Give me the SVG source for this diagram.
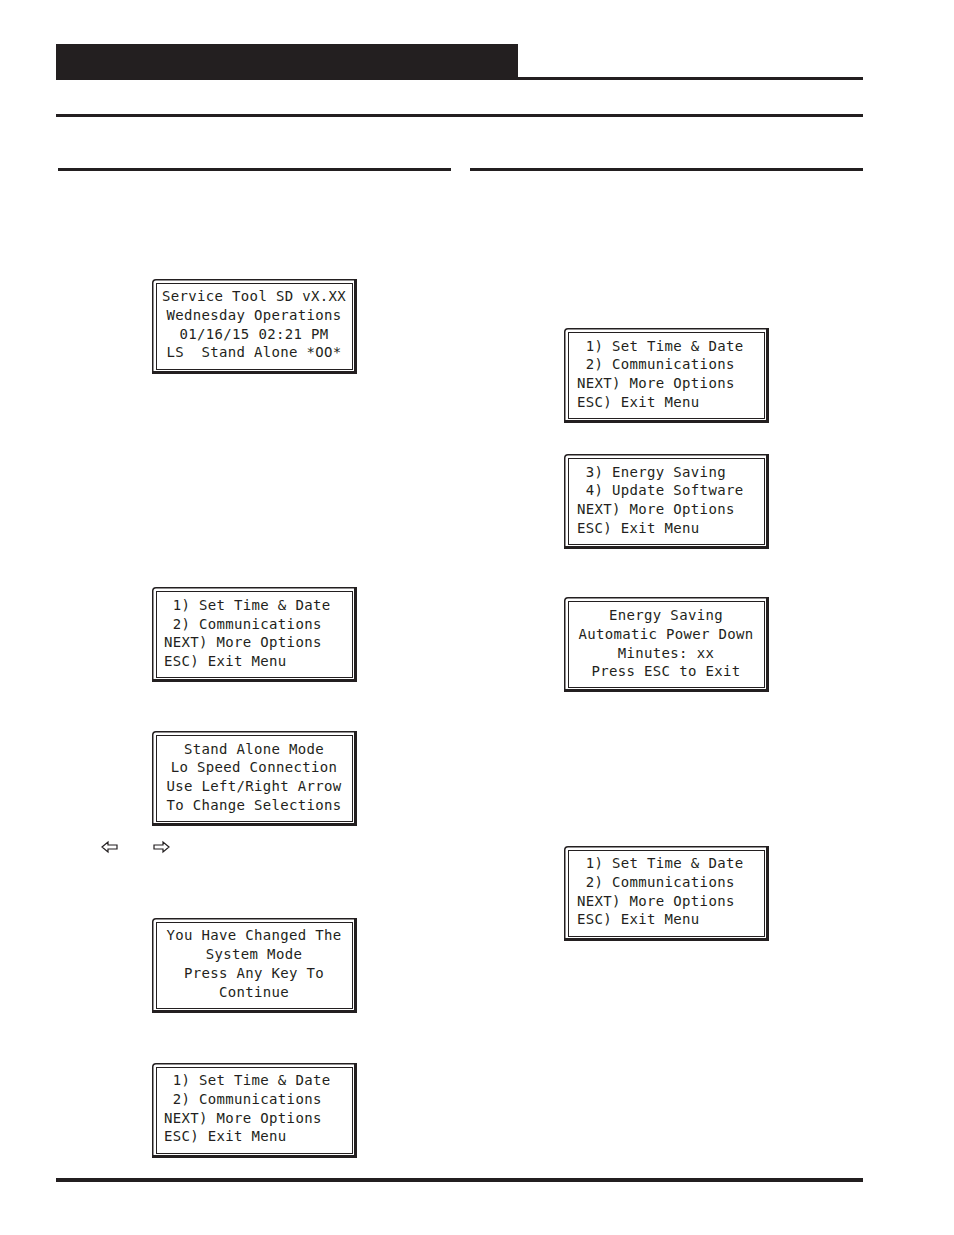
<svg xmlns="http://www.w3.org/2000/svg" xmlns:xlink="http://www.w3.org/1999/xlink" width="954" height="1235" viewBox="0 0 954 1235">
<style>
.rule{fill:#231f20}
.fr{fill:none;stroke:#231f20}
.lcd{font-family:"DejaVu Sans Mono","Liberation Mono",monospace;font-size:14px;letter-spacing:0.33px;fill:#231f20}
.c{text-anchor:middle}
.arw{fill:#fff;stroke:#231f20;stroke-width:1.2;stroke-linejoin:miter}
</style>
<defs>
<g id="frame">
<path class="fr" d="M0.75,94 V4 Q0.75,0.75 4,0.75 H203" stroke-width="1.5"/>
<path class="fr" d="M203.5,0 V93.5 H0" stroke-width="3"/>
<rect class="fr" x="4.5" y="4.5" width="196" height="86" stroke-width="1"/>
</g>
</defs>
<rect width="954" height="1235" fill="#fff"/>
<g id="rules">
<rect class="rule" x="56" y="44" width="462" height="36"/>
<rect class="rule" x="56" y="77" width="807" height="3"/>
<rect class="rule" x="56" y="114" width="807" height="3"/>
<rect class="rule" x="58" y="168" width="393" height="3"/>
<rect class="rule" x="470" y="168" width="393" height="3"/>
<rect class="rule" x="56" y="1178" width="807" height="4"/>
</g>
<g id="lcd-start" transform="translate(152,279)">
<use xlink:href="#frame"/>
<text class="lcd c" x="102" y="22">Service Tool SD vX.XX</text>
<text class="lcd c" x="102" y="41">Wednesday Operations</text>
<text class="lcd c" x="102" y="60">01/16/15 02:21 PM</text>
<text class="lcd c" x="102" y="78" xml:space="preserve">LS  Stand Alone *OO*</text>
</g>
<g id="lcd-menu-a" transform="translate(152,587)">
<use xlink:href="#frame"/>
<text class="lcd" x="12" y="23" xml:space="preserve"> 1) Set Time &amp; Date</text>
<text class="lcd" x="12" y="42" xml:space="preserve"> 2) Communications</text>
<text class="lcd" x="12" y="60">NEXT) More Options</text>
<text class="lcd" x="12" y="79">ESC) Exit Menu</text>
</g>
<g id="lcd-standalone" transform="translate(152,731)">
<use xlink:href="#frame"/>
<text class="lcd c" x="102" y="23">Stand Alone Mode</text>
<text class="lcd c" x="102" y="41">Lo Speed Connection</text>
<text class="lcd c" x="102" y="60">Use Left/Right Arrow</text>
<text class="lcd c" x="102" y="79">To Change Selections</text>
</g>
<g id="arrows">
<polygon class="arw" points="102,847 108,842 108,845 117,845 117,849 108,849 108,852"/>
<polygon class="arw" points="169,847 163,842 163,845 154,845 154,849 163,849 163,852"/>
</g>
<g id="lcd-changed" transform="translate(152,918)">
<use xlink:href="#frame"/>
<text class="lcd c" x="102" y="22">You Have Changed The</text>
<text class="lcd c" x="102" y="41">System Mode</text>
<text class="lcd c" x="102" y="60">Press Any Key To</text>
<text class="lcd c" x="102" y="79">Continue</text>
</g>
<g id="lcd-menu-b" transform="translate(152,1063)">
<use xlink:href="#frame"/>
<text class="lcd" x="12" y="22" xml:space="preserve"> 1) Set Time &amp; Date</text>
<text class="lcd" x="12" y="41" xml:space="preserve"> 2) Communications</text>
<text class="lcd" x="12" y="60">NEXT) More Options</text>
<text class="lcd" x="12" y="78">ESC) Exit Menu</text>
</g>
<g id="lcd-menu-c" transform="translate(564,328)">
<use xlink:href="#frame"/>
<text class="lcd" x="13" y="23" xml:space="preserve"> 1) Set Time &amp; Date</text>
<text class="lcd" x="13" y="41" xml:space="preserve"> 2) Communications</text>
<text class="lcd" x="13" y="60">NEXT) More Options</text>
<text class="lcd" x="13" y="79">ESC) Exit Menu</text>
</g>
<g id="lcd-menu-more" transform="translate(564,454)">
<use xlink:href="#frame"/>
<text class="lcd" x="13" y="23" xml:space="preserve"> 3) Energy Saving</text>
<text class="lcd" x="13" y="41" xml:space="preserve"> 4) Update Software</text>
<text class="lcd" x="13" y="60">NEXT) More Options</text>
<text class="lcd" x="13" y="79">ESC) Exit Menu</text>
</g>
<g id="lcd-energy" transform="translate(564,597)">
<use xlink:href="#frame"/>
<text class="lcd c" x="102" y="23">Energy Saving</text>
<text class="lcd c" x="102" y="42">Automatic Power Down</text>
<text class="lcd c" x="102" y="61">Minutes: xx</text>
<text class="lcd c" x="102" y="79">Press ESC to Exit</text>
</g>
<g id="lcd-menu-d" transform="translate(564,846)">
<use xlink:href="#frame"/>
<text class="lcd" x="13" y="22" xml:space="preserve"> 1) Set Time &amp; Date</text>
<text class="lcd" x="13" y="41" xml:space="preserve"> 2) Communications</text>
<text class="lcd" x="13" y="60">NEXT) More Options</text>
<text class="lcd" x="13" y="78">ESC) Exit Menu</text>
</g>
</svg>
